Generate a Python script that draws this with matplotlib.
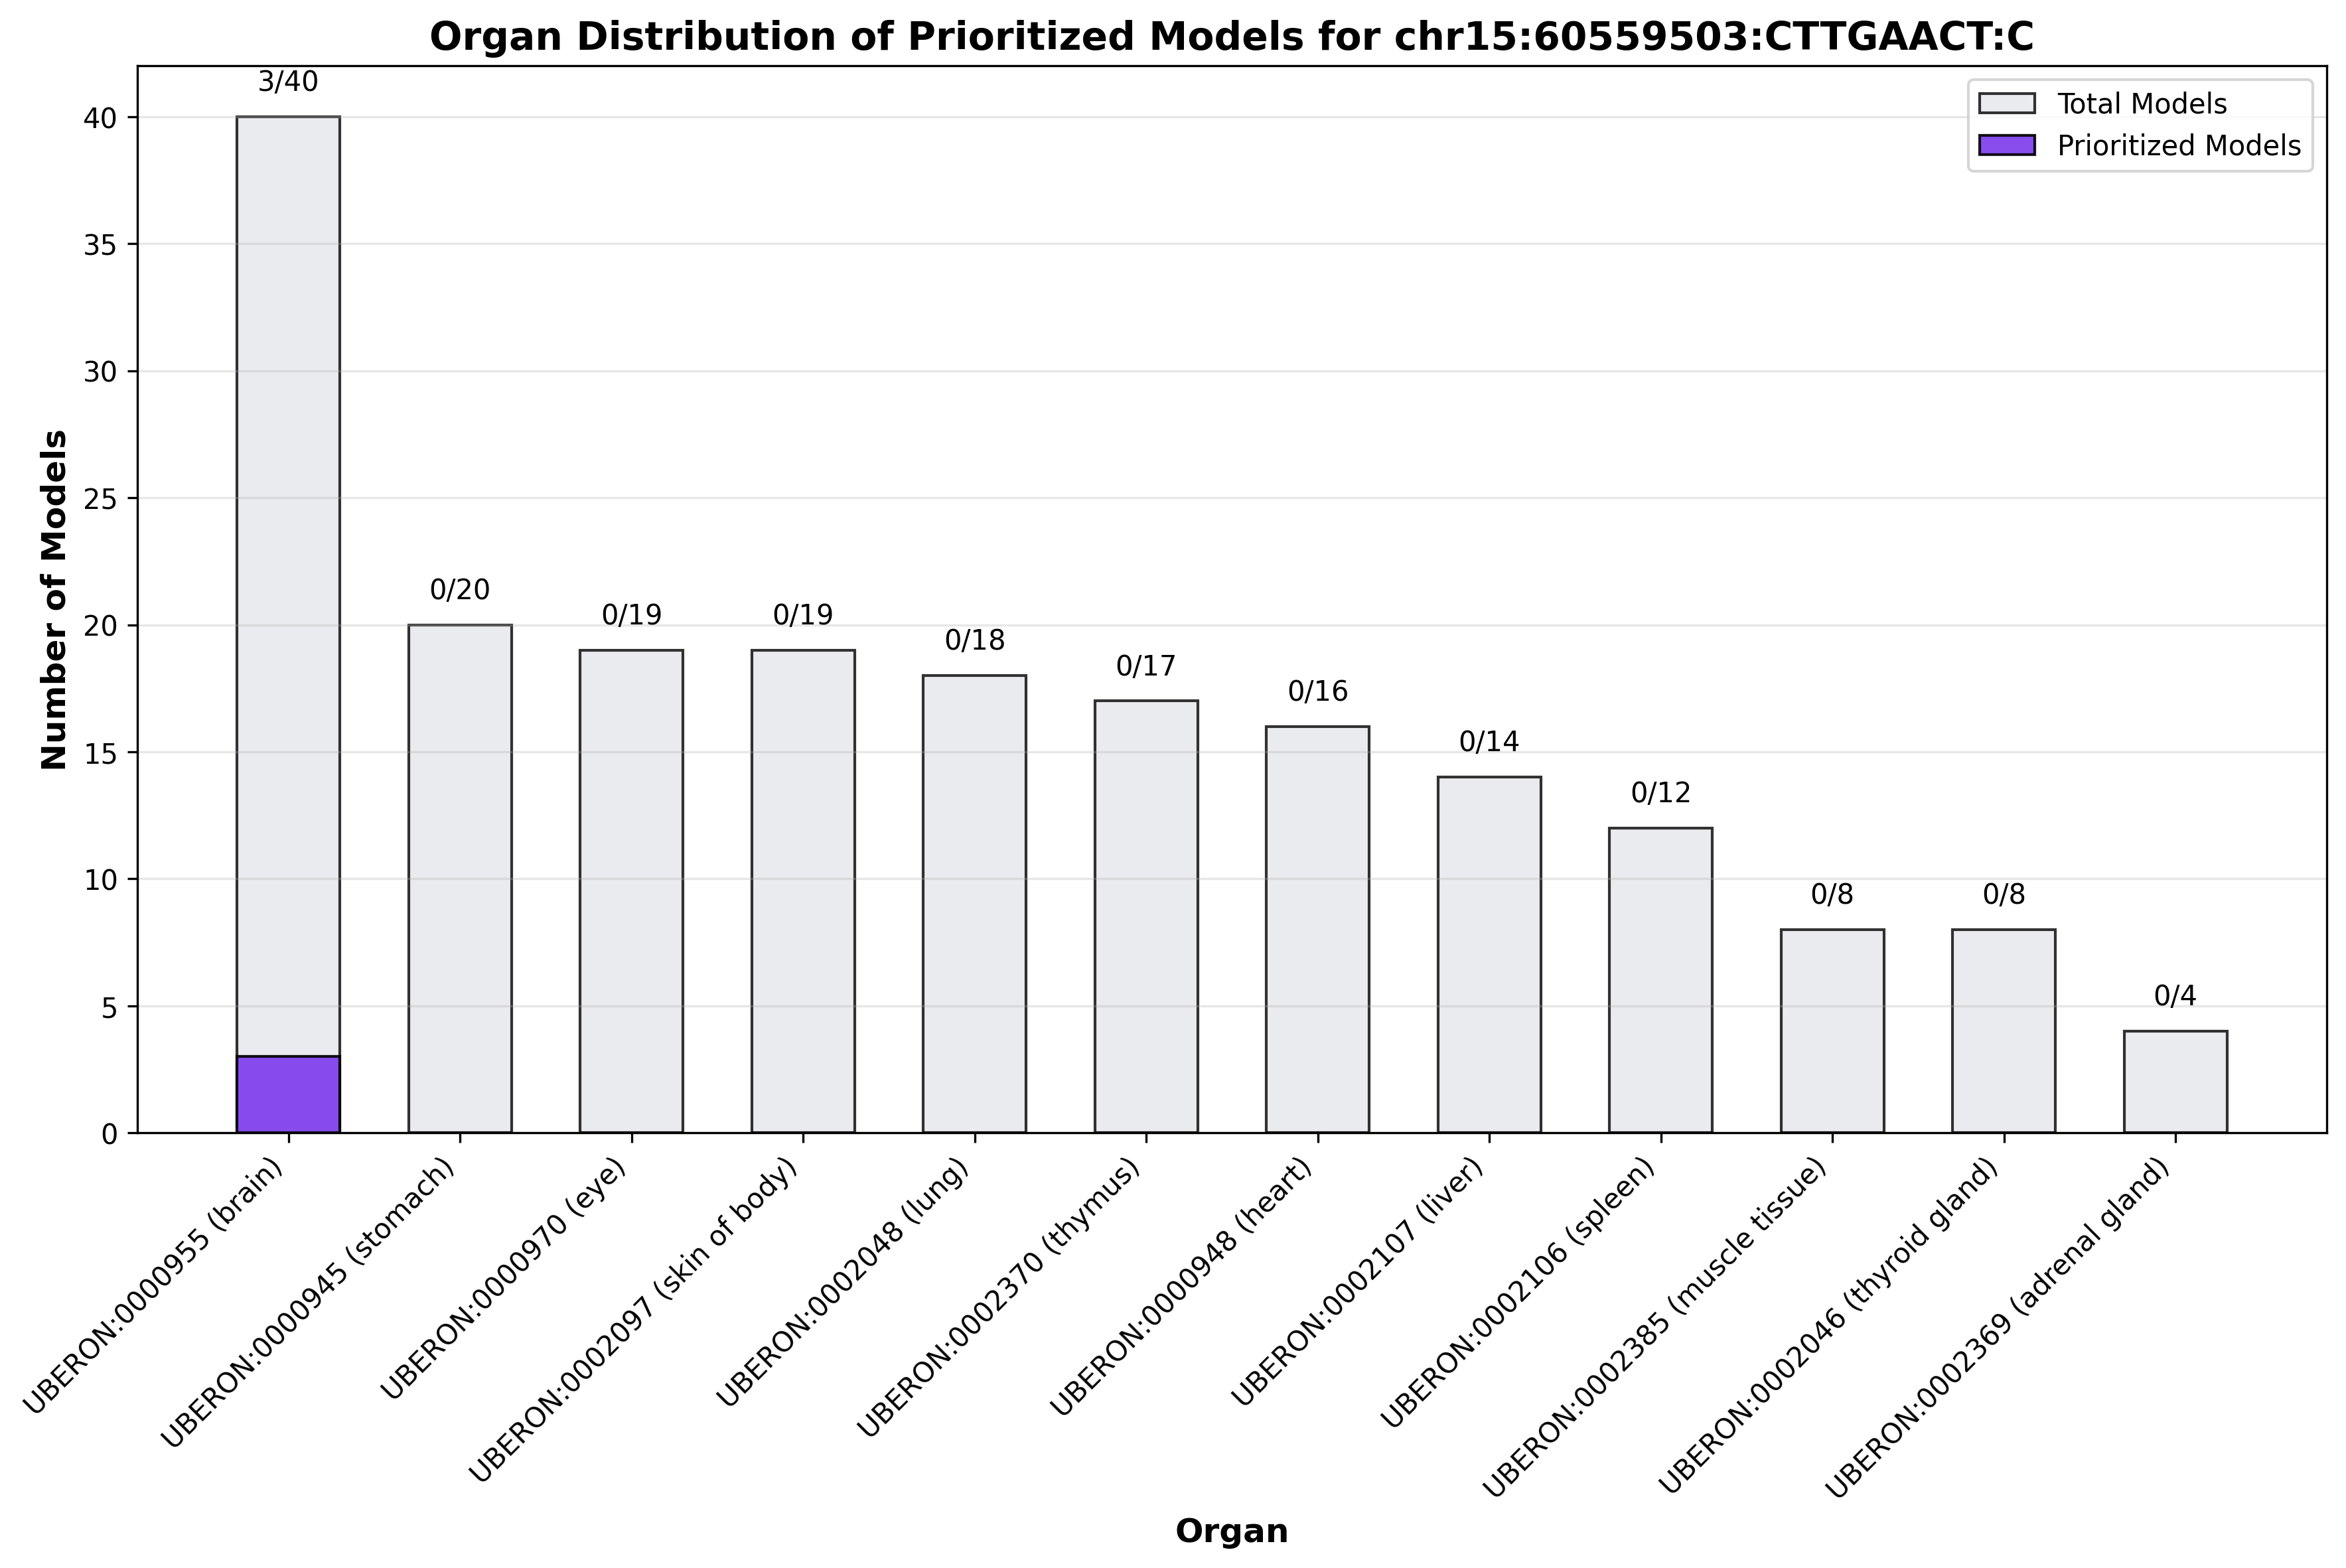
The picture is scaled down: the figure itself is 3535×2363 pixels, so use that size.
import matplotlib
matplotlib.use('Agg')
import matplotlib.pyplot as plt
import numpy as np

# Дані
organs = ['UBERON:0000955 (brain)', 'UBERON:0000945 (stomach)', 'UBERON:0000970 (eye)',
          'UBERON:0002097 (skin of body)', 'UBERON:0002048 (lung)', 'UBERON:0002370 (thymus)',
          'UBERON:0000948 (heart)', 'UBERON:0002107 (liver)', 'UBERON:0002106 (spleen)',
          'UBERON:0002385 (muscle tissue)', 'UBERON:0002046 (thyroid gland)',
          'UBERON:0002369 (adrenal gland)']
total_models = [40, 20, 19, 19, 18, 17, 16, 14, 12, 8, 8, 4]
prioritized_models = [3, 0, 0, 0, 0, 0, 0, 0, 0, 0, 0, 0]

x = np.arange(len(organs))
width = 0.6

fig, ax = plt.subplots(figsize=(12, 8))
ax.bar(x, total_models, width, color='#E5E7EB', edgecolor='black', alpha=0.8,
       linewidth=1, label='Total Models')
ax.bar(x, prioritized_models, width, color='#7C3AED', edgecolor='black', alpha=0.9,
       linewidth=1, label='Prioritized Models')

# Підписи над стовпцями
offset = max(total_models) * 0.02
for i, (t, p) in enumerate(zip(total_models, prioritized_models)):
    ax.text(i, t + offset, f'{p}/{t}', ha='center', va='bottom', fontsize=10)

ax.set_title('Organ Distribution of Prioritized Models for chr15:60559503:CTTGAACT:C',
             fontsize=14, fontweight='bold')
ax.set_xlabel('Organ', fontsize=12, fontweight='bold')
ax.set_ylabel('Number of Models', fontsize=12, fontweight='bold')
ax.set_xticks(x)
ax.set_xticklabels(organs, rotation=45, ha='right')
ax.legend()
ax.grid(axis='y', alpha=0.3)
ax.set_ylim(0, 42)

plt.tight_layout()
plt.savefig('out.png', dpi=300, bbox_inches='tight')
